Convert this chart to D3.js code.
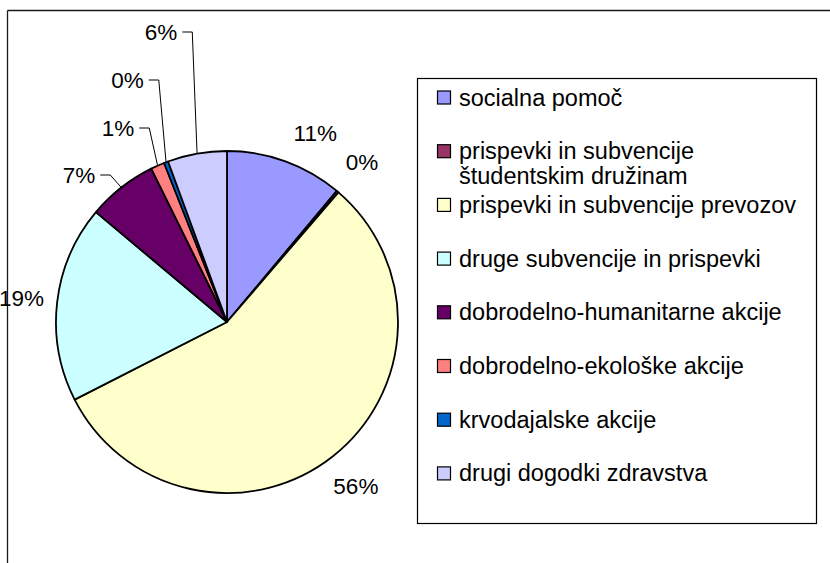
<!DOCTYPE html>
<html><head><meta charset="utf-8">
<script src="https://cdn.jsdelivr.net/npm/d3@7/dist/d3.min.js"></script>
<style>
html,body{margin:0;padding:0;background:#fff;}
svg{display:block;}
text{font-family:"Liberation Sans",Arial,sans-serif;fill:#000;}
</style></head>
<body>
<svg id="chart" width="830" height="563"></svg>
<script>
// ---- data ----
const categories = [
  "socialna pomoč",
  "prispevki in subvencije študentskim družinam",
  "prispevki in subvencije prevozov",
  "druge subvencije in prispevki",
  "dobrodelno-humanitarne akcije",
  "dobrodelno-ekološke akcije",
  "krvodajalske akcije",
  "drugi dogodki zdravstva"
];
const values = [11.1, 0.2, 56.2, 18.6, 6.6, 1.3, 0.4, 5.6];
const colors = ["#9999FF", "#993366", "#FFFFCC", "#CCFFFF", "#660066", "#FF8080", "#0066CC", "#CCCCFF"];

// ---- layout ----
const W = 830, H = 563;
const cx = 227, cy = 322, R = 171;
const labelFont = 22.5, legendFont = 23.5;
// label placement: radial factor for plain labels; explicit anchors (relative to centre) for leader labels
const labelLayout = [
  {type: "radial", k: 1.22, dx: 17, dy: 8},
  {type: "radial", k: 1.22, dx: 0, dy: 0},
  {type: "radial", k: 1.22, dx: 0, dy: 0},
  {type: "radial", k: 1.21, dx: 0, dy: 0},
  {type: "leader", x: -148, y: -147},
  {type: "leader", x: -109, y: -194},
  {type: "leader", x: -99.5, y: -242},
  {type: "leader", x: -66, y: -290}
];

const svg = d3.select("#chart");

// outer frame (top & left visible)
svg.append("line").attr("x1", 7.5).attr("y1", 10.5).attr("x2", W).attr("y2", 10.5)
  .attr("stroke", "#1a1a1a").attr("stroke-width", 1.3);
svg.append("line").attr("x1", 7.5).attr("y1", 10.5).attr("x2", 7.5).attr("y2", H)
  .attr("stroke", "#1a1a1a").attr("stroke-width", 1.3);

const pie = d3.pie().sort(null).value(d => d).startAngle(0).endAngle(2 * Math.PI);
const arcs = pie(values);
const arc = d3.arc().innerRadius(0).outerRadius(R);

const g = svg.append("g").attr("transform", `translate(${cx},${cy})`);
g.selectAll("path.slice").data(arcs).join("path")
  .attr("class", "slice")
  .attr("d", arc)
  .attr("fill", (d, i) => colors[i])
  .attr("stroke", "#000")
  .attr("stroke-width", 1.8)
  .attr("stroke-linejoin", "round");

// labels
const fmt = v => Math.round(v) + "%";
arcs.forEach((d, i) => {
  const L = labelLayout[i];
  const mid = (d.startAngle + d.endAngle) / 2;
  const rimX = R * Math.sin(mid), rimY = -R * Math.cos(mid);
  if (L.type === "radial") {
    const x = L.k * R * Math.sin(mid) + L.dx, y = -L.k * R * Math.cos(mid) + L.dy;
    g.append("text").attr("x", x).attr("y", y).attr("text-anchor", "middle")
      .attr("dominant-baseline", "central").attr("font-size", labelFont).text(fmt(values[i]));
  } else {
    const t = g.append("text").attr("x", L.x).attr("y", L.y).attr("text-anchor", "middle")
      .attr("dominant-baseline", "central").attr("font-size", labelFont).text(fmt(values[i]));
    const w = t.node().getComputedTextLength();
    const x0 = L.x + w / 2 + 5;
    g.append("path")
      .attr("d", `M${x0},${L.y}H${x0 + 10}L${rimX},${rimY}`)
      .attr("fill", "none").attr("stroke", "#000").attr("stroke-width", 1);
  }
});

// legend
const lg = svg.append("g");
lg.append("rect").attr("x", 417.5).attr("y", 78.5).attr("width", 399).attr("height", 445)
  .attr("fill", "#fff").attr("stroke", "#000").attr("stroke-width", 1.2);
const rowY0 = 97.5, rowStep = 53.7, lineH = 25, sq = 13, sqX = 437, txtX = 459, maxW = 352;
categories.forEach((c, i) => {
  const y = rowY0 + i * rowStep;
  lg.append("rect").attr("x", sqX + 0.5).attr("y", y - sq / 2).attr("width", sq).attr("height", sq)
    .attr("fill", colors[i]).attr("stroke", "#000").attr("stroke-width", 1.2);
  const t = lg.append("text").attr("x", txtX).attr("y", y).attr("dominant-baseline", "central")
    .attr("font-size", legendFont);
  // simple word wrap
  const words = c.split(" ");
  let line = [], lineNo = 0;
  let ts = t.append("tspan").attr("x", txtX).attr("y", y);
  words.forEach(wd => {
    line.push(wd);
    ts.text(line.join(" "));
    if (ts.node().getComputedTextLength() > maxW && line.length > 1) {
      line.pop();
      ts.text(line.join(" "));
      line = [wd];
      lineNo++;
      ts = t.append("tspan").attr("x", txtX).attr("y", y + lineNo * lineH).text(wd);
    }
  });
});
</script>
</body></html>
